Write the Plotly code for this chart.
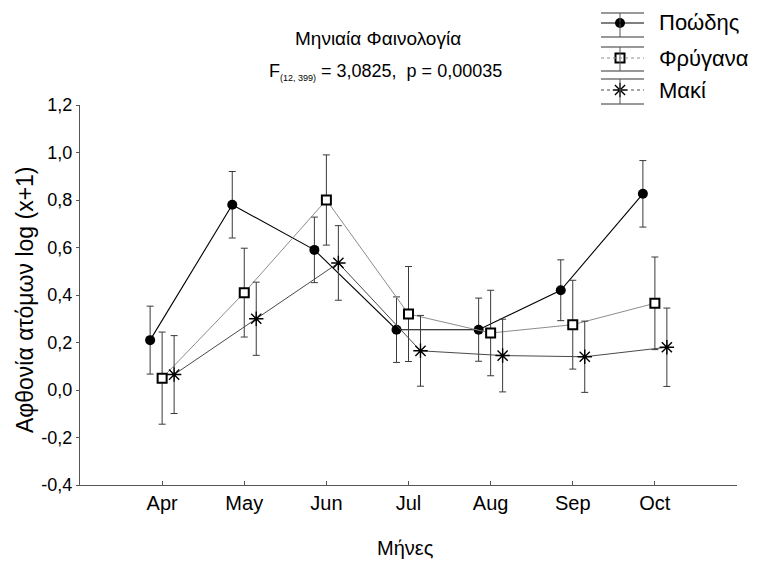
import plotly.graph_objects as go

# Monthly abundance (log(x+1)) per habitat type, mean and error half-width
months = ["Apr", "May", "Jun", "Jul", "Aug", "Sep", "Oct"]
series_names = ["Ποώδης", "Φρύγανα", "Μακί"]
poodis_mean = [0.21, 0.78, 0.59, 0.254, 0.254, 0.42, 0.826]
poodis_err = [0.143, 0.140, 0.138, 0.138, 0.133, 0.128, 0.140]
frygana_mean = [0.05, 0.41, 0.80, 0.32, 0.24, 0.275, 0.365]
frygana_err = [0.194, 0.187, 0.190, 0.200, 0.180, 0.187, 0.195]
maki_mean = [0.065, 0.30, 0.535, 0.165, 0.145, 0.14, 0.18]
maki_err = [0.164, 0.154, 0.157, 0.149, 0.153, 0.150, 0.165]

y_tickvals = [-0.4, -0.2, 0.0, 0.2, 0.4, 0.6, 0.8, 1.0, 1.2]
y_ticktext = ["-0,4", "-0,2", "0,0", "0,2", "0,4", "0,6", "0,8", "1,0", "1,2"]

FONT = "Liberation Sans, Arial, sans-serif"
W, H = 757, 565
ML, MR, MT, MB = 80, 20, 5, 80
PW, PH = W - ML - MR, H - MT - MB
PLOT_TOP = 105  # top of the data area, in pixels from the top


def px(x):
    return (x - ML) / PW


def py(y):
    return (H - MB - y) / PH


# horizontal dodge of the three groups around each month
dodge = [-0.146, 0.0, 0.146]

styles = [
    dict(line=dict(color="#000000", width=1.1),
         marker=dict(symbol="circle", size=10, color="#000000",
                     line=dict(width=0))),
    dict(line=dict(color="#8c8c8c", width=1),
         marker=dict(symbol="square", size=9, color="#ffffff",
                     line=dict(color="#000000", width=2))),
    dict(line=dict(color="#4a4a4a", width=1),
         marker=dict(symbol="asterisk-open", size=12, color="#000000",
                     line=dict(color="#000000", width=1.4))),
]
means = [poodis_mean, frygana_mean, maki_mean]
errs = [poodis_err, frygana_err, maki_err]

fig = go.Figure()
for name, m, e, d, st in zip(series_names, means, errs, dodge, styles):
    fig.add_trace(go.Scatter(
        x=[i + d for i in range(len(months))], y=m, name=name,
        mode="lines+markers", line=st["line"], marker=st["marker"],
        error_y=dict(type="data", array=e, visible=True, color="#3a3a3a",
                     thickness=1, width=3.5),
        showlegend=False, cliponaxis=False,
    ))

# legend glyphs: marker with whiskers and a line sample
rows_mid = [23, 58, 90]
rows_top = [13, 47, 79]
rows_bot = [37, 71, 104]
gx0, gx1, gxm, tx = 601, 644, 620, 657
shapes = []
for i, st in enumerate(styles):
    for yy in (rows_top[i], rows_bot[i]):
        shapes.append(dict(type="line", xref="paper", yref="paper",
                           x0=px(gx0), x1=px(gx1), y0=py(yy), y1=py(yy),
                           line=dict(color="#333333", width=1)))
    shapes.append(dict(type="line", xref="paper", yref="paper",
                       x0=px(gxm), x1=px(gxm), y0=py(rows_top[i]), y1=py(rows_bot[i]),
                       line=dict(color="#555555", width=1)))
    shapes.append(dict(type="line", xref="paper", yref="paper",
                       x0=px(gx0), x1=px(gx1), y0=py(rows_mid[i]), y1=py(rows_mid[i]),
                       line=dict(color=st["line"]["color"], width=1,
                                 dash="solid" if i == 0 else "dot")))
    fig.add_trace(go.Scatter(
        x=[px(gxm)], y=[py(rows_mid[i])], xaxis="x2", yaxis="y2",
        mode="markers", marker=st["marker"], showlegend=False,
        cliponaxis=False, hoverinfo="skip",
    ))

annotations = []
for i, name in enumerate(series_names):
    annotations.append(dict(text=name, xref="paper", yref="paper",
                            x=px(tx), y=py(rows_mid[i]), xanchor="left",
                            yanchor="middle", showarrow=False,
                            font=dict(family=FONT, size=22, color="#000")))

annotations += [
    dict(text="Μηνιαία Φαινολογία", xref="paper", yref="paper",
         x=px(378), y=py(39), xanchor="center", yanchor="middle",
         showarrow=False, font=dict(family=FONT, size=19, color="#000")),
    dict(text="F<sub><span style='font-size:9px'>(12, 399)</span></sub> = 3,0825,  p = 0,00035",
         xref="paper", yref="paper", x=px(385), y=py(72), xanchor="center",
         yanchor="middle", showarrow=False,
         font=dict(family=FONT, size=18, color="#000")),
    dict(text="Αφθονία ατόμων log (x+1)", xref="paper", yref="paper",
         x=px(25), y=py(300), xanchor="center", yanchor="middle",
         textangle=-90, showarrow=False,
         font=dict(family=FONT, size=23, color="#000")),
    dict(text="Μήνες", xref="paper", yref="paper", x=px(405), y=py(548),
         xanchor="center", yanchor="middle", showarrow=False,
         font=dict(family=FONT, size=20, color="#000")),
]

fig.update_layout(
    width=W, height=H,
    margin=dict(l=ML, r=MR, t=MT, b=MB, autoexpand=False),
    paper_bgcolor="#ffffff", plot_bgcolor="rgba(0,0,0,0)",
    font=dict(family=FONT, color="#000"),
    xaxis=dict(range=[-1, 7], tickvals=list(range(len(months))), ticktext=months,
               ticks="inside", ticklen=4, tickcolor="#555", showline=True,
               linecolor="#555", linewidth=1, showgrid=False, zeroline=False,
               tickfont=dict(family=FONT, size=20, color="#000")),
    yaxis=dict(domain=[0, py(PLOT_TOP)], range=[-0.4, 1.2],
               tickvals=y_tickvals, ticktext=y_ticktext,
               ticks="outside", ticklen=3, tickcolor="#555", showline=True,
               linecolor="#555", linewidth=1, showgrid=False, zeroline=False,
               tickfont=dict(family=FONT, size=18, color="#000")),
    # paper-sized helper axes that carry the legend symbols
    xaxis2=dict(domain=[0, 1], anchor="y2", range=[0, 1], visible=False),
    yaxis2=dict(domain=[0, 1], anchor="x2", range=[0, 1], visible=False),
    shapes=shapes,
    annotations=annotations,
)

fig.write_html("out.html")
